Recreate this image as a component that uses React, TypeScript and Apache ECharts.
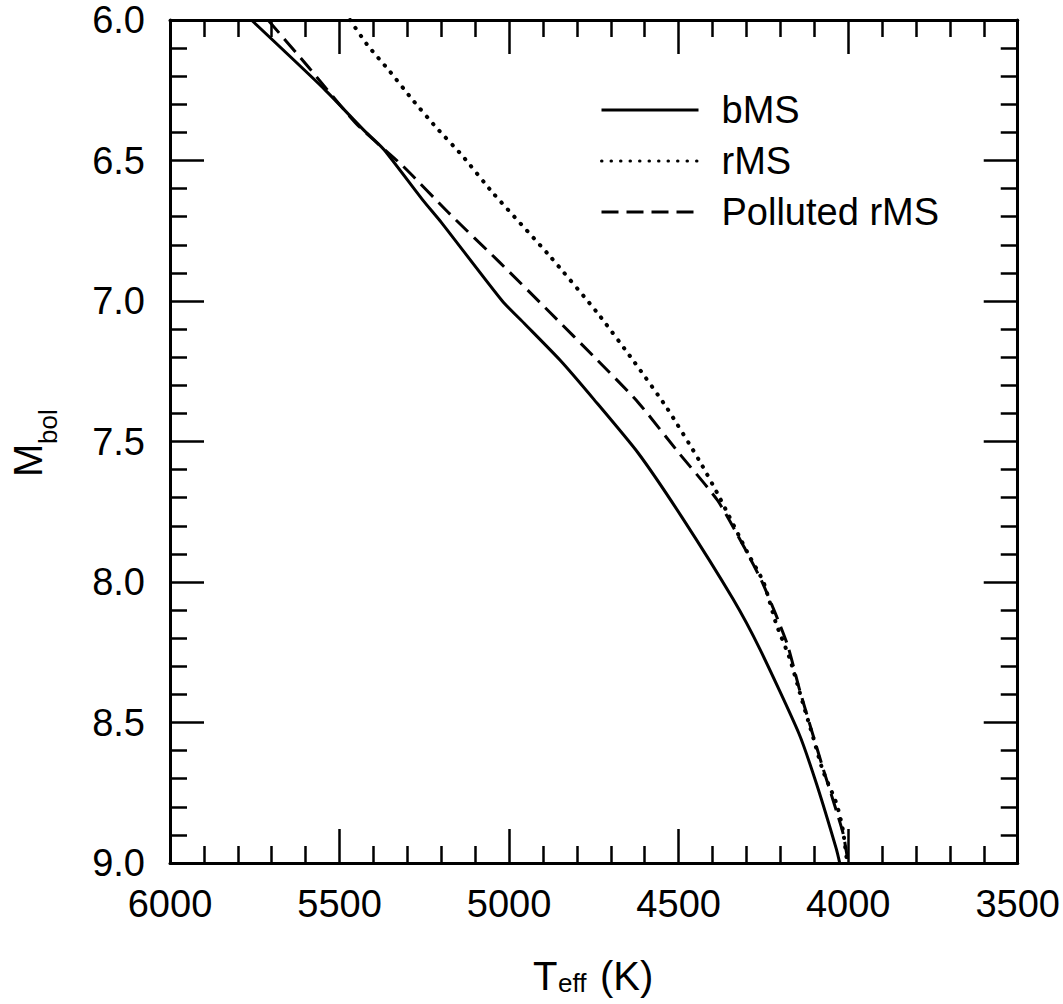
import React, { useEffect, useRef } from "react";
import * as echarts from "echarts";

// bMS (solid)
const bmsTeff = [5760, 5550, 5430, 5370, 5255, 5200, 5020, 4955, 4850, 4750, 4620, 4490, 4340, 4260, 4145, 4093, 4035, 4025];
const bmsMbol = [6.0, 6.24, 6.39, 6.46, 6.64, 6.72, 7.0, 7.08, 7.21, 7.35, 7.54, 7.77, 8.06, 8.24, 8.54, 8.72, 8.95, 9.0];

// rMS (dotted)
const rmsTeff = [5469, 5419, 5351, 5284, 5213, 5140, 5048, 4880, 4741, 4635, 4535, 4438, 4379, 4295, 4250, 4212, 4173, 4134, 4104, 4075, 4034, 4016, 4003];
const rmsMbol = [6.0, 6.087, 6.184, 6.285, 6.385, 6.48, 6.615, 6.84, 7.04, 7.21, 7.38, 7.57, 7.7, 7.9, 8.0, 8.15, 8.27, 8.43, 8.55, 8.67, 8.79, 8.88, 9.0];

// Polluted rMS (dashed)
const polTeff = [5711, 5590, 5450, 5313, 5175, 5030, 4880, 4740, 4620, 4500, 4385, 4305, 4250, 4180, 4143, 4075, 4016, 4000];
const polMbol = [6.0, 6.17, 6.37, 6.52, 6.69, 6.86, 7.04, 7.21, 7.36, 7.54, 7.71, 7.88, 8.01, 8.22, 8.385, 8.66, 8.89, 9.0];

const seriesNames = ["bMS", "rMS", "Polluted rMS"];

const xMin = 3500;
const xMax = 6000;
const xStep = 500;
const yMin = 6.0;
const yMax = 9.0;
const yStep = 0.5;

const FONT = "'Liberation Sans', Arial, Helvetica, sans-serif";

const pairs = (xs: number[], ys: number[]) => xs.map((x, i) => [x, ys[i]]);

export default function App() {
  const ref = useRef<HTMLDivElement>(null);

  useEffect(() => {
    if (!ref.current) return;
    const chart = echarts.init(ref.current, undefined, { renderer: "svg" });

    const tickCommon = {
      axisLine: { show: true, onZero: false, lineStyle: { color: "#000", width: 3 } },
      axisTick: { show: true, inside: true, length: 34, lineStyle: { color: "#000", width: 2.5 } },
      minorTick: { show: true, splitNumber: 5, length: 17, lineStyle: { color: "#000", width: 2.5 } },
      splitLine: { show: false },
      minorSplitLine: { show: false },
    };

    const xBase = { type: "value", min: xMin, max: xMax, interval: xStep, inverse: true, ...tickCommon };
    const yBase = { type: "value", min: yMin, max: yMax, interval: yStep, inverse: true, ...tickCommon };

    const option: any = {
      animation: false,
      backgroundColor: "#fff",
      textStyle: { fontFamily: FONT },
      grid: { left: 170, right: 45, top: 20, bottom: 141 },
      xAxis: [
        {
          ...xBase,
          position: "bottom",
          axisLabel: {
            show: true,
            margin: 22,
            color: "#000",
            fontSize: 38,
            fontFamily: FONT,
            formatter: (v: number) => String(v),
            showMinLabel: true,
            showMaxLabel: true,
          },
        },
        { ...xBase, position: "top", axisLabel: { show: false } },
      ],
      yAxis: [
        {
          ...yBase,
          position: "left",
          axisLabel: {
            show: true,
            margin: 25,
            color: "#000",
            fontSize: 38,
            fontFamily: FONT,
            formatter: (v: number) => v.toFixed(1),
            showMinLabel: true,
            showMaxLabel: true,
          },
        },
        { ...yBase, position: "right", axisLabel: { show: false } },
      ],
      legend: {
        left: 600,
        top: 91,
        padding: 0,
        orient: "vertical",
        itemWidth: 97,
        itemHeight: 30,
        itemGap: 13,
        selectedMode: false,
        data: seriesNames,
        itemStyle: { opacity: 0 },
        lineStyle: { width: 3 },
        textStyle: { fontSize: 38, color: "#000", fontFamily: FONT, padding: [0, 0, 0, 18] },
      },
      series: [
        {
          name: seriesNames[0],
          type: "line",
          xAxisIndex: 0,
          yAxisIndex: 0,
          symbol: "none",
          showSymbol: false,
          smooth: 0.2,
          data: pairs(bmsTeff, bmsMbol),
          lineStyle: { color: "#000", width: 3, type: "solid" },
          itemStyle: { color: "#000" },
        },
        {
          name: seriesNames[1],
          type: "line",
          xAxisIndex: 0,
          yAxisIndex: 0,
          symbol: "none",
          showSymbol: false,
          smooth: 0.2,
          data: pairs(rmsTeff, rmsMbol),
          lineStyle: { color: "#000", width: 4, type: [0.5, 9], cap: "round" },
          itemStyle: { color: "#000" },
        },
        {
          name: seriesNames[2],
          type: "line",
          xAxisIndex: 0,
          yAxisIndex: 0,
          symbol: "none",
          showSymbol: false,
          smooth: 0.2,
          data: pairs(polTeff, polMbol),
          lineStyle: { color: "#000", width: 3, type: [17, 8] },
          itemStyle: { color: "#000" },
        },
      ],
      graphic: [
        { type: "text", x: 533, y: 976, style: { text: "T", fontSize: 40, fontFamily: FONT, fill: "#000", align: "left", verticalAlign: "middle" } },
        { type: "text", x: 558, y: 983, style: { text: "eff", fontSize: 26, fontFamily: FONT, fill: "#000", align: "left", verticalAlign: "middle" } },
        { type: "text", x: 600, y: 976, style: { text: "(K)", fontSize: 40, fontFamily: FONT, fill: "#000", align: "left", verticalAlign: "middle" } },
        { type: "text", x: 28, y: 477, rotation: Math.PI / 2, style: { text: "M", fontSize: 40, fontFamily: FONT, fill: "#000", align: "left", verticalAlign: "middle" } },
        { type: "text", x: 48, y: 444, rotation: Math.PI / 2, style: { text: "bol", fontSize: 26, fontFamily: FONT, fill: "#000", align: "left", verticalAlign: "middle" } },
      ],
    };

    chart.setOption(option);
    return () => chart.dispose();
  }, []);

  return (
    <div
      ref={ref}
      style={{ position: "absolute", left: 0, top: 0, width: 1063, height: 1004, background: "#fff" }}
    />
  );
}
